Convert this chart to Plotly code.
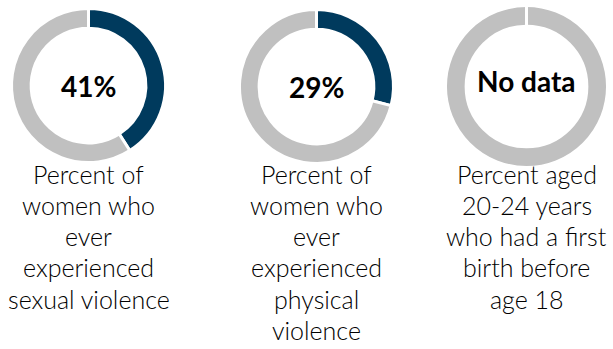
import plotly.graph_objects as go

# Indicator captions, one list entry per printed line
captions = [
    ["Percent of", "women who", "ever", "experienced", "sexual violence"],
    ["Percent of", "women who", "ever", "experienced", "physical", "violence"],
    ["Percent aged", "20-24 years", "who had a first", "birth before", "age 18"],
]
# Indicator values (percent); None means no survey data
values = [41, 29, None]
center_labels = ["41%", "29%", "No data"]

W, H = 613, 349
BLUE = "#003a5d"
GREY = "#c0c0c0"
FONT = "Lato"
HOLE = 0.745

# ring centres (px from left / top) and outer radius
centres = [(88.5, 85.5, 77), (316.5, 86.5, 77), (526.5, 86.5, 81)]
FIRST_LINE_Y = 173.5
LINE_STEP = 31.3


def px(x, y):
    return x / W, 1 - y / H


fig = go.Figure()
for i, (v, (cx, cy, r)) in enumerate(zip(values, centres)):
    if v is None:
        vals, cols = [100], [GREY]
    else:
        vals, cols = [v, 100 - v], [BLUE, GREY]
    fig.add_trace(go.Pie(
        values=vals,
        hole=HOLE,
        sort=False,
        direction="clockwise",
        rotation=0,
        marker=dict(colors=cols, line=dict(color="white", width=3)),
        textinfo="none",
        hoverinfo="skip",
        showlegend=False,
        domain=dict(x=[(cx - r) / W, (cx + r) / W],
                    y=[1 - (cy + r) / H, 1 - (cy - r) / H]),
    ))
    if v is None:
        # seam at 12 o'clock on the empty ring
        x0, y0 = px(cx, cy - r)
        x1, y1 = px(cx, cy - r * HOLE + 2)
        fig.add_shape(type="line", xref="paper", yref="paper",
                      x0=x0, y0=y0, x1=x1, y1=y1,
                      line=dict(color="white", width=3))
    lx, ly = px(cx, cy - (5 if v is None else 0))
    fig.add_annotation(
        x=lx, y=ly, xref="paper", yref="paper",
        xanchor="center", yanchor="middle",
        text=f"<b>{center_labels[i]}</b>", showarrow=False,
        font=dict(family=FONT, size=28, color="black"),
    )
    for k, line in enumerate(captions[i]):
        tx, ty = px(cx, FIRST_LINE_Y + k * LINE_STEP)
        fig.add_annotation(
            x=tx, y=ty, xref="paper", yref="paper",
            xanchor="center", yanchor="middle",
            text=line, showarrow=False,
            font=dict(family=FONT, size=25, color="black", weight=300),
        )

fig.update_layout(
    width=W, height=H,
    margin=dict(l=0, r=0, t=0, b=0),
    paper_bgcolor="white",
    plot_bgcolor="white",
)
fig.write_html("out.html")
